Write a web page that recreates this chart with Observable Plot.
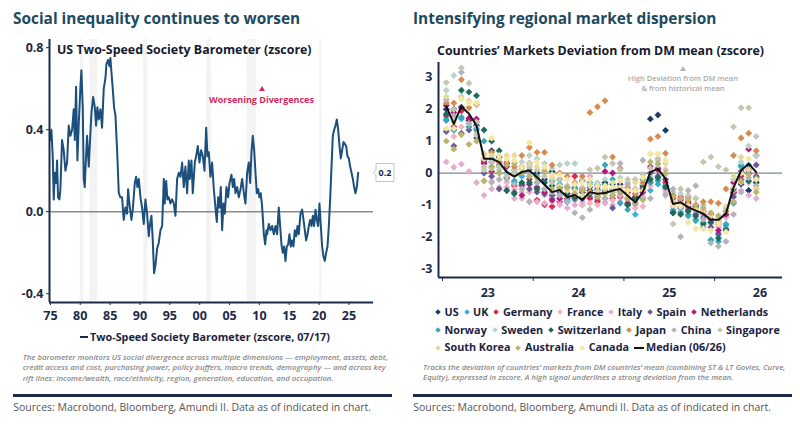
<!DOCTYPE html>
<html>
<head>
<meta charset="utf-8">
<script src="https://cdn.jsdelivr.net/npm/d3@7"></script>
<script src="https://cdn.jsdelivr.net/npm/@observablehq/plot@0.6"></script>
<style>
  html, body { margin: 0; padding: 0; background: #fff; }
  #page { position: relative; width: 800px; height: 427px; overflow: hidden; font-family: "Open Sans", sans-serif; background: #fff; }
  .abs { position: absolute; white-space: nowrap; line-height: 1; }
  .title { font-size: 15.4px; font-weight: 700; color: #1d4a60; }
  .inner { font-size: 12.4px; font-weight: 700; color: #161b2e; }
  .legend { font-size: 10.8px; font-weight: 700; color: #1c2340; display: flex; align-items: center; }
  .note { font-size: 7.8px; font-style: italic; font-weight: 600; color: #8a8a8a; line-height: 10.5px; }
  .bar { position: absolute; height: 3px; background: #1c2a4a; }
  .src { font-size: 10.5px; color: #555; }
  .tri { position: absolute; width: 0; height: 0; border-left: 3px solid transparent; border-right: 3px solid transparent; }
  .dia { display: inline-block; width: 4px; height: 4px; transform: rotate(45deg); margin: 0 4.5px 0 1px; }
  .item { display: inline-flex; align-items: center; margin-right: 5px; }
  .plot { position: absolute; top: 0; }
</style>
</head>
<body>
<div id="page"></div>
<script>
// ---------- US Two-Speed Society Barometer (zscore) ----------
const barometerYears = [
  1975.00, 1975.17, 1975.39, 1975.56, 1975.73, 1975.95, 1976.12, 1976.28, 1976.51, 1976.68,
  1976.95, 1977.23, 1977.51, 1977.79, 1978.07, 1978.35, 1978.63, 1978.91, 1979.08, 1979.30,
  1979.52, 1979.75, 1980.03, 1980.19, 1980.42, 1980.58, 1980.75, 1980.97, 1981.14, 1981.42,
  1981.59, 1981.87, 1982.15, 1982.43, 1982.65, 1982.87, 1983.10, 1983.38, 1983.65, 1983.93,
  1984.21, 1984.38, 1984.66, 1984.88, 1985.05, 1985.22, 1985.44, 1985.66, 1985.89, 1986.17,
  1986.45, 1986.73, 1987.00, 1987.28, 1987.56, 1987.84, 1988.01, 1988.23, 1988.57, 1988.79,
  1989.13, 1989.35, 1989.57, 1989.80, 1990.08, 1990.35, 1990.63, 1990.91, 1991.19, 1991.47,
  1991.69, 1991.92, 1992.14, 1992.36, 1992.59, 1992.87, 1993.15, 1993.43, 1993.71, 1993.99,
  1994.15, 1994.38, 1994.60, 1994.82, 1995.10, 1995.38, 1995.66, 1995.94, 1996.22, 1996.50,
  1996.78, 1997.06, 1997.33, 1997.61, 1997.89, 1998.17, 1998.34, 1998.62, 1998.84, 1999.18,
  1999.40, 1999.68, 1999.96, 2000.24, 2000.52, 2000.80, 2001.08, 2001.30, 2001.52, 2001.80,
  2002.08, 2002.36, 2002.64, 2002.86, 2003.09, 2003.31, 2003.53, 2003.76, 2003.98, 2004.20,
  2004.48, 2004.76, 2004.99, 2005.32, 2005.54, 2005.77, 2005.99, 2006.27, 2006.55, 2006.83,
  2007.11, 2007.39, 2007.66, 2007.94, 2008.22, 2008.45, 2008.67, 2008.89, 2009.12, 2009.34,
  2009.56, 2009.79, 2010.01, 2010.23, 2010.46, 2010.74, 2010.96, 2011.18, 2011.29, 2011.57,
  2011.85, 2012.13, 2012.41, 2012.69, 2012.96, 2013.24, 2013.47, 2013.69, 2013.91, 2014.14,
  2014.36, 2014.58, 2014.81, 2015.03, 2015.25, 2015.48, 2015.70, 2015.92, 2016.15, 2016.37,
  2016.59, 2016.87, 2017.15, 2017.38, 2017.60, 2017.82, 2018.05, 2018.27, 2018.49, 2018.72,
  2018.94, 2019.16, 2019.39, 2019.61, 2019.83, 2020.05, 2020.28, 2020.50, 2020.73, 2020.95,
  2021.17, 2021.40, 2021.62, 2021.84, 2022.07, 2022.29, 2022.51, 2022.74, 2022.96, 2023.18,
  2023.41, 2023.63, 2023.85, 2024.08, 2024.30, 2024.52, 2024.75, 2024.97, 2025.19, 2025.42,
  2025.64, 2025.86, 2026.08, 2026.31, 2026.53
];
const barometerValues = [
  0.35, 0.40, 0.27, 0.06, 0.19, 0.14, 0.25, 0.07, 0.06, 0.11,
  0.35, 0.30, 0.20, 0.24, 0.42, 0.37, 0.40, 0.50, 0.35, 0.61,
  0.25, 0.43, 0.61, 0.69, 0.51, 0.16, 0.12, 0.27, 0.37, 0.22,
  0.32, 0.48, 0.56, 0.51, 0.42, 0.51, 0.45, 0.50, 0.41, 0.60,
  0.65, 0.72, 0.74, 0.71, 0.75, 0.68, 0.60, 0.51, 0.47, 0.30,
  0.09, 0.07, 0.07, -0.04, 0.02, -0.01, 0.11, 0.04, -0.04, 0.01,
  0.14, 0.17, 0.12, 0.16, 0.07, 0.02, -0.06, 0.06, -0.01, -0.12,
  -0.06, -0.02, -0.14, -0.30, -0.26, -0.18, -0.15, -0.09, -0.07, 0.16,
  0.04, 0.15, 0.06, 0.07, 0.04, 0.06, 0.04, -0.02, 0.16, 0.19,
  0.17, 0.24, 0.12, 0.22, 0.09, 0.25, 0.16, 0.25, 0.09, 0.24,
  0.27, 0.32, 0.24, 0.30, 0.27, 0.20, 0.41, 0.27, 0.29, 0.17,
  0.24, 0.11, 0.02, -0.05, 0.07, 0.02, 0.12, -0.09, 0.04, -0.01,
  0.12, 0.07, 0.14, 0.18, 0.12, 0.16, 0.09, 0.12, 0.07, 0.11,
  0.16, 0.09, 0.04, 0.19, 0.24, 0.14, 0.29, 0.37, 0.30, 0.19,
  0.09, 0.11, 0.07, 0.09, 0.02, -0.11, -0.16, -0.09, -0.11, -0.06,
  -0.09, -0.07, -0.11, -0.07, -0.11, 0.02, -0.07, -0.16, -0.20, -0.17,
  -0.24, -0.17, -0.16, -0.11, -0.17, -0.14, -0.17, -0.09, -0.12, -0.07,
  -0.11, -0.01, 0.01, -0.04, -0.09, -0.14, -0.11, -0.07, -0.04, -0.07,
  -0.02, -0.07, 0.01, -0.04, -0.07, 0.04, -0.07, -0.17, -0.22, -0.24,
  -0.20, -0.17, -0.07, 0.06, 0.22, 0.37, 0.40, 0.42, 0.45, 0.40,
  0.32, 0.26, 0.30, 0.34, 0.33, 0.32, 0.27, 0.26, 0.22, 0.19,
  0.16, 0.12, 0.09, 0.12, 0.19
];
// US recessions (shaded bands)
const recessionStart = [1980.0, 1981.6, 1990.6, 2001.2, 2007.95, 2020.1];
const recessionEnd   = [1980.55, 1982.95, 1991.25, 2001.95, 2009.5, 2020.45];
const leftYearTicks = [1975, 1980, 1985, 1990, 1995, 2000, 2005, 2010, 2015, 2020, 2025];
const leftValueTicks = [-0.4, 0, 0.4, 0.8];

// ---------- Countries' markets deviation from DM mean (zscore), monthly Jan-23 .. Jun-26 ----------
const countries = ["US", "UK", "Germany", "France", "Italy", "Spain", "Netherlands",
  "Norway", "Sweden", "Switzerland", "Japan", "China", "Singapore",
  "South Korea", "Australia", "Canada"];
const startYear = 2023, monthCount = 42;
const us = [2.0, 2.0, 2.07, 1.65, 1.5, 0.45, 0.7, 0.5, 0.3, 0.1, 0.2, 0.3, 0.0, -0.2,
  0.05, -0.2, -0.45, -0.5, -0.6, -0.55, -0.4, -0.3, -0.5, -0.35, -1.0, -0.75, -0.4, 1.70,
  1.82, 1.34, -1.25, -1.1, -0.95, -1.05, -1.3, -1.55, -1.6, -1.35, -0.6, -0.35, -0.55, -0.3];
const uk = [1.7, 1.35, 1.7, 1.55, 1.4, 0.4, 0.2, 0.0, -0.15, -0.3, -0.1, -0.1, -0.3, -0.5,
  -0.8, -0.7, -0.9, -0.85, -1.0, -0.75, -0.85, -0.8, -0.7, -0.7, -0.95, -1.3, -0.8, -0.55,
  -0.35, -0.5, -1.15, -1.1, -1.3, -1.45, -1.55, -2.1, -1.95, -1.6, -0.65, 0.25, 0.1, -0.2];
const germany = [1.8, 1.45, 1.95, 1.7, 1.6, 0.35, 0.05, 0.2, -0.15, -0.4, -0.4, -0.2, -0.85, -1.0,
  -1.05, -0.9, -0.8, -0.1, -0.5, -0.8, -0.9, -0.6, -0.8, -0.75, -0.6, -0.85, -0.5, -0.3,
  0.1, -0.3, -0.8, -0.75, -0.9, -1.0, -1.2, -1.3, -1.5, -1.2, -0.6, -0.1, 0.1, -0.1];
const france = [1.35, 1.15, 1.45, 1.45, 1.25, 0.1, -0.25, -0.2, -0.3, -0.5, -0.6, -0.6, -0.55, -0.7,
  -0.75, -0.85, -0.75, -0.8, -1.0, -0.95, -1.0, -0.9, -0.85, -0.7, -0.85, -1.1, -1.05, -0.4,
  -0.2, -0.55, -1.05, -1.2, -1.2, -1.35, -1.45, -1.6, -1.55, -1.4, -0.55, -0.3, -0.3, -0.5];
const italy = [0.35, 0.18, 0.28, 0.05, -0.3, -0.7, -0.5, -0.45, -0.45, -0.8, -0.8, -0.9, -0.9, -0.95,
  -0.9, -1.0, -1.1, -1.0, -0.9, -0.1, -0.7, -0.95, -1.0, -0.9, -0.5, -1.0, -0.75, -0.1,
  -0.2, -0.65, -1.0, -0.95, -1.1, -1.25, -1.3, -1.45, -1.7, -1.35, -0.9, -0.55, -0.7, -0.8];
const spain = [1.3, 0.85, 1.25, 1.35, 1.1, 0.0, -0.1, -0.5, -0.55, -0.6, -0.35, -0.5, -0.6, -0.65,
  -0.7, -0.6, -0.9, -0.8, -0.6, -0.45, -0.5, -0.55, -1.1, -0.6, -0.8, -0.95, -0.6, 0.0,
  -0.1, -0.4, -0.9, -1.05, -1.15, -1.3, -1.4, -1.7, -1.9, -1.75, -0.75, -0.2, 0.0, 0.25];
const netherlands = [2.12, 1.9, 2.05, 1.72, 1.7, 0.3, 0.35, 0.35, 0.2, 0.0, -0.7, -0.35, -0.45, -0.6,
  -0.85, -0.8, -0.65, -0.65, -0.25, -0.6, -0.75, 0.05, 0.0, -0.45, -0.95, -0.75, -0.6, 0.2,
  0.15, -0.2, -0.7, -0.85, -1.05, -1.15, -1.2, -1.45, -1.8, -1.3, -0.3, 0.05, 0.75, 0.55];
const norway = [1.65, 1.35, 1.75, 1.45, 1.35, 1.0, 0.45, 0.25, 0.0, -0.25, 0.0, 0.1, -0.1, -0.3,
  -0.25, -0.35, -0.85, -0.45, -0.75, -0.3, -0.35, 0.25, -0.2, -0.95, -1.15, -0.65, -0.2, -0.3,
  -0.25, -0.4, -1.2, -1.25, -1.35, -1.5, -1.7, -2.1, -2.15, -1.65, -0.95, 0.2, 0.25, -0.15];
const sweden = [2.6, 3.06, 2.4, 1.55, 1.2, 0.1, 0.15, 0.2, -0.05, 0.1, 0.35, 0.55, 0.45, 0.3,
  0.15, 0.25, 0.3, 0.3, -0.2, -0.35, -0.3, -0.2, -0.5, -0.15, -0.3, -0.55, -0.35, -0.15,
  0.25, -0.05, -0.6, -0.65, -0.8, -0.8, -1.0, -1.25, -1.35, -1.1, -0.2, 0.35, 0.85, 0.55];
const switzerland = [1.85, 2.0, 2.6, 2.54, 2.43, 1.35, 1.0, 0.7, -0.55, -0.65, -0.3, -0.3, -0.5, -0.3,
  -0.4, -0.45, -0.65, -0.75, -0.8, -0.65, -0.55, -0.35, -0.35, -0.6, -1.0, -0.8, -0.45, -0.2,
  -0.15, -0.45, -1.25, -1.3, -1.2, -1.35, -1.6, -1.55, -2.05, -1.8, -0.5, 0.0, -0.25, -0.3];
const japan = [2.2, 2.2, 2.93, 2.05, 2.15, 0.6, 0.65, 0.35, 0.35, 0.2, 0.55, 0.8, 0.65, 0.65,
  0.25, 0.0, -0.1, -0.3, -0.1, 1.9, 2.08, 2.27, 0.5, 0.15, -0.45, -0.65, -0.3, 1.07,
  1.15, 0.62, -0.7, -0.8, -0.75, -1.1, -0.9, -0.9, -0.95, -0.5, 0.55, 1.1, 1.25, 0.7];
const china = [2.3, 1.8, 3.16, 1.55, 1.45, -0.25, -0.3, -0.2, -0.2, -0.35, -0.5, -0.9, -0.3, -0.5,
  -0.6, -0.7, -0.9, -1.25, -1.4, -1.15, -0.55, -0.8, -0.6, 0.3, -0.35, -0.5, 0.4, -0.8,
  0.45, -0.7, -0.5, -2.0, -0.55, -0.4, -1.45, -2.2, -2.3, -2.15, -1.3, -0.6, -0.15, -0.4];
const singapore = [2.84, 2.0, 3.3, 2.82, 1.6, 0.2, 0.35, 0.1, -0.1, 0.0, 0.15, 0.2, 0.1, -0.1,
  -0.3, -0.2, -0.4, -0.35, -0.45, 0.1, 0.15, 0.5, 0.3, 0.1, -0.2, -0.2, -0.05, 0.15,
  0.4, 0.1, -1.6, -0.5, -0.7, -0.8, 0.35, 0.5, 0.2, 0.1, 1.45, 2.05, 2.05, 1.15];
const southKorea = [2.4, 1.6, 2.33, 2.28, 2.2, 0.6, 0.55, 0.45, 0.55, 0.55, 0.1, 0.3, 0.2, 0.1,
  -0.15, -0.4, -0.55, -0.55, -0.7, -0.4, -0.6, -0.5, -0.3, -0.45, -0.7, -0.3, -0.55, 0.6,
  0.6, 0.3, -0.9, -0.95, -1.0, -1.15, -1.2, -1.35, -1.5, -1.05, -0.1, 0.5, 0.1, -0.5];
const australia = [1.0, 0.75, 1.2, 0.9, 1.0, -0.25, 0.2, 0.0, 0.25, 0.3, 0.0, -0.1, -0.15, 0.05,
  -0.5, -0.5, -0.45, -0.65, -0.55, -0.6, -0.75, -0.65, -0.7, -0.6, -0.8, -0.95, -0.85, 0.35,
  0.3, 0.0, -0.75, -0.8, -0.85, -1.0, -1.1, -1.25, -1.35, -1.2, -0.9, -0.25, -0.05, -0.6];
const canada = [1.4, 1.4, 2.33, 2.2, 2.2, 0.45, 1.1, 0.55, 0.45, 0.4, 0.2, 0.95, 0.35, 0.2,
  -0.05, -0.05, -0.2, -0.35, -0.3, -0.2, -0.4, -0.4, -0.45, -0.25, -0.55, -0.55, -0.15, 0.6,
  0.6, 0.4, -1.0, -1.05, -1.55, -1.75, -1.75, -1.8, -1.6, -1.85, -0.45, 0.0, 0.45, -0.2];
const median = [2.1, 1.54, 2.09, 1.86, 1.49, 0.45, 0.45, 0.34, 0.03, -0.11, 0.03, 0.08, -0.13, -0.36,
  -0.60, -0.53, -0.76, -0.69, -0.84, -0.60, -0.65, -0.63, -0.55, -0.50, -0.71, -0.92, -0.60, 0.03,
  0.13, -0.18, -0.97, -0.92, -1.07, -1.18, -1.28, -1.47, -1.47, -1.28, -0.45, 0.08, 0.29, 0.03];
const rightYearTicks = [2023, 2024, 2025, 2026];
const rightValueTicks = [-3, -2, -1, 0, 1, 2, 3];

// Styling
const countryColors = ["#1f3b66", "#33b3de", "#e2254f", "#f1b4c4", "#e7abd3", "#6b5b95", "#b0187b",
  "#3aa5b3", "#b9d4c6", "#1d6b5b", "#d98b4e", "#b3b3b9", "#c4c6b2", "#e5d89b", "#bcb46d", "#f7e6a2"];
const navy = "#1c2a4a";

// ---------- build tables ----------
const countrySeries = [us, uk, germany, france, italy, spain, netherlands, norway, sweden,
  switzerland, japan, china, singapore, southKorea, australia, canada];
countrySeries.concat([median]).forEach((s, k) => {
  if (s.length !== monthCount) throw new Error("series " + k + " has " + s.length + " values");
});
if (barometerYears.length !== barometerValues.length) throw new Error("barometer length mismatch " + barometerYears.length + " vs " + barometerValues.length);

const monthT = i => startYear + (i + 0.5) / 12; // mid-month position in decimal years
const points = [];
countrySeries.forEach((s, k) => s.forEach((v, i) => points.push({country: countries[k], t: monthT(i), v})));
const medianRows = median.map((v, i) => ({t: monthT(i), v}));
const barometer = barometerYears.map((year, i) => ({year, value: barometerValues[i]}));
const recessions = recessionStart.map((start, i) => ({start, end: recessionEnd[i]}));
const latest = barometer[barometer.length - 1];

const axisStyle = {fontFamily: "Open Sans", fontSize: "12.5px", fontWeight: 700, color: navy, background: "transparent", overflow: "visible"};

// ---------- left chart ----------
const leftX = [1974.85, 2029.1], leftY = [-0.443, 0.84];
const leftPlot = Plot.plot({
  width: 400, height: 330,
  marginLeft: 49, marginRight: 27, marginTop: 39, marginBottom: 28,
  x: {domain: leftX},
  y: {domain: leftY},
  style: axisStyle,
  marks: [
    Plot.rect(recessions, {x1: "start", x2: "end", fill: "#f3f3f3"}),
    Plot.ruleY([0], {stroke: "#8a8a8a", strokeWidth: 1.5}),
    Plot.line(barometer, {x: "year", y: "value", stroke: "#1c4f7c", strokeWidth: 2}),
    Plot.axisX({ticks: leftYearTicks, tickFormat: d => String(d % 100).padStart(2, "0"), tickSize: 3, tickPadding: 6, label: null}),
    Plot.axisY({ticks: leftValueTicks, tickFormat: d => d.toFixed(1), tickSize: 3, tickPadding: 3, label: null}),
    Plot.ruleX([leftX[0]], {stroke: navy, strokeWidth: 2}),
    Plot.ruleY([leftY[0]], {stroke: navy, strokeWidth: 2}),
    Plot.tip([latest], {
      x: "year", y: "value", title: d => d3.format(".1f")(d.value),
      anchor: "left", dx: 15, pointerSize: 5, textPadding: 2.5,
      fill: "white", stroke: "#c4c4c4", pathFilter: "none", fontSize: 9, fontWeight: "bold"
    })
  ]
});

// ---------- right chart ----------
const rightX = [2022.956, 2026.748], rightY = [-3.28, 3.47];
const rightPlot = Plot.plot({
  width: 400, height: 330,
  marginLeft: 38, marginRight: 18, marginTop: 62, marginBottom: 53,
  x: {domain: rightX},
  y: {domain: rightY},
  color: {domain: countries, range: countryColors},
  style: axisStyle,
  marks: [
    Plot.ruleY([0], {stroke: "#7d8796", strokeWidth: 1.3}),
    Plot.dot(points, {x: "t", y: "v", fill: "country", symbol: "diamond2", r: 3.1}),
    Plot.line(medianRows, {x: "t", y: "v", stroke: "#111", strokeWidth: 2}),
    // year-boundary tick marks below the axis
    Plot.ruleX(rightYearTicks, {y1: rightY[0], y2: rightY[0], insetBottom: -4, stroke: navy, strokeWidth: 1}),
    // year labels centred on each year
    Plot.axisX({ticks: rightYearTicks.map(y => y + 0.5), tickFormat: d => String(Math.floor(d) % 100), tickSize: 0, tickPadding: 10.5, label: null}),
    Plot.axisY({ticks: rightValueTicks, tickFormat: d => String(d), tickSize: 0, tickPadding: 6, label: null}),
    Plot.ruleX([rightX[0]], {stroke: navy, strokeWidth: 2}),
    Plot.ruleY([rightY[0]], {stroke: navy, strokeWidth: 2})
  ]
});

// ---------- page assembly ----------
const page = document.getElementById("page");
function add(html, cls, css) {
  const el = document.createElement("div");
  el.className = cls;
  el.innerHTML = html;
  Object.assign(el.style, css);
  page.appendChild(el);
  return el;
}
const lp = document.createElement("div"); lp.className = "plot"; lp.style.left = "0px"; lp.appendChild(leftPlot); page.appendChild(lp);
const rp = document.createElement("div"); rp.className = "plot"; rp.style.left = "400px"; rp.appendChild(rightPlot); page.appendChild(rp);

// titles
add("Social inequality continues to worsen", "abs title", {left: "13px", top: "11.3px"});
add("Intensifying regional market dispersion", "abs title", {left: "413px", top: "11.3px"});
add("US Two-Speed Society Barometer (zscore)", "abs inner", {left: "57px", top: "44px"});
add("Countries’ Markets Deviation from DM mean (zscore)", "abs inner", {left: "437px", top: "45px"});

// annotations
add("", "tri", {left: "259px", top: "85.5px", borderBottom: "5px solid #d42a5b"});
add("Worsening Divergences", "abs", {left: "261.5px", top: "94.7px", transform: "translateX(-50%)", fontSize: "9px", fontWeight: 700, color: "#d42a5b"});
add("", "tri", {left: "680px", top: "65.5px", borderBottom: "5px solid #b4b4b4"});
add("High Deviation from DM mean<br>&amp; from historical mean", "abs", {left: "683px", top: "73.1px", transform: "translateX(-50%)", fontSize: "7.5px", fontWeight: 600, color: "#ababab", lineHeight: "10px", textAlign: "center"});

// left legend
add(`<span style="display:inline-block;width:8px;height:2px;background:${navy};margin-right:2px"></span>Two-Speed Society Barometer (zscore, 07/17)`,
  "abs legend", {left: "80px", top: "332.1px"});

// right legend
const rows = [countries.slice(0, 7), countries.slice(7, 13), countries.slice(13)];
const rowTops = [307.1, 324.7, 342.4];
rows.forEach((row, r) => {
  let html = row.map(c => `<span class="item"><span class="dia" style="background:${countryColors[countries.indexOf(c)]}"></span>${c}</span>`).join("");
  if (r === 2) html += `<span class="item"><span style="display:inline-block;width:10px;height:2px;background:#111;margin-right:2px"></span>Median (06/26)</span>`;
  add(html, "abs legend", {left: "435px", top: rowTops[r] + "px"});
});

// footnotes
add("The barometer monitors US social divergence across multiple dimensions — employment, assets, debt,<br>credit access and cost, purchasing power, policy buffers, macro trends, demography — and across key<br>rift lines: income/wealth, race/ethnicity, region, generation, education, and occupation.",
  "abs note", {left: "22.7px", top: "351.7px"});
add("Tracks the deviation of countries’ markets from DM countries’ mean (combining ST &amp; LT Govies, Curve,<br>Equity), expressed in zscore. A high signal underlines a strong deviation from the mean.",
  "abs note", {left: "423px", top: "361.7px"});

// source bars
add("", "bar", {left: "13.3px", top: "394.3px", width: "378.4px"});
add("", "bar", {left: "413.3px", top: "394.3px", width: "378.4px"});
add("Sources: Macrobond, Bloomberg, Amundi II. Data as of indicated in chart.", "abs src", {left: "13.3px", top: "402.4px"});
add("Sources: Macrobond, Bloomberg, Amundi II. Data as of indicated in chart.", "abs src", {left: "413.3px", top: "402.4px"});
</script>
</body>
</html>
